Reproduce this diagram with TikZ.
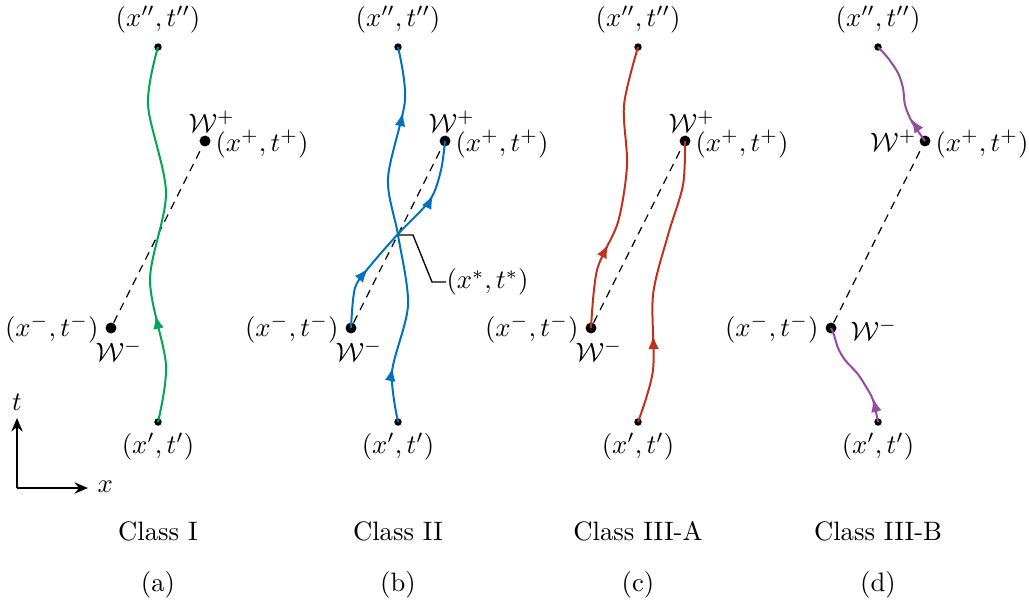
\documentclass[tikz,border=0pt]{standalone}
\usetikzlibrary{arrows.meta,decorations.markings}
\definecolor{cgreen}{RGB}{0,166,81}
\definecolor{cblue}{RGB}{0,114,189}
\definecolor{cred}{RGB}{192,50,30}
\definecolor{cpurple}{RGB}{148,75,160}
\tikzset{
  sdot/.style={circle,fill=black,inner sep=0pt,minimum size=2.8pt},
  bdot/.style={circle,fill=black,inner sep=0pt,minimum size=4.1pt},
  lbl/.style={inner sep=0pt},
  traj/.style={line width=0.75pt},
  dsh/.style={line width=0.45pt,dash pattern=on 3pt off 2.3pt},
  tipa/.style={decoration={markings,mark=at position #1 with {\arrow{Latex[length=5.2pt,width=4pt]}}},postaction={decorate}},
  tipb/.style 2 args={decoration={markings,mark=at position #1 with {\arrow{Latex[length=5.2pt,width=4pt]}},mark=at position #2 with {\arrow{Latex[length=5.2pt,width=4pt]}}},postaction={decorate}},
  headonly/.style={line width=0.75pt,-{Latex[length=5.2pt,width=4pt]}},
  axis/.style={line width=0.9pt,-{Stealth[length=5pt,width=4.2pt,inset=1.6pt]}}
}
\begin{document}
\begin{tikzpicture}[x=0.375pt,y=-0.375pt]
\useasboundingbox (0,0) rectangle (1029,602);
% ---------- common points for the four panels
\foreach \o/\p in {0/a,240/b,480/c,720/d}{
  \node[sdot] (top\p) at (158+\o,47) {};
  \node[sdot] (bot\p) at (158+\o,422) {};
  \node[bdot] (wp\p) at (205+\o,141) {};
  \node[bdot] (wm\p) at (111+\o,328) {};
  \node[lbl,anchor=base] (ltop\p) at (158+\o,26.3) {$(x'',t'')$};
  \node[lbl,anchor=base] (lbot\p) at (158+\o,453.5) {$(x',t')$};
  \node[lbl,anchor=base west] (lxp\p) at (215+\o,151.5) {$(x^+,t^+)$};
  \node[lbl,anchor=base east] (lxm\p) at (99+\o,336) {$(x^-,t^-)$};
  \draw[dsh] (wm\p) -- (wp\p);
}
\foreach \o/\p in {0/a,240/b,480/c}{
  \node[lbl,anchor=base west] (lwp\p) at (188+\o,132) {$\mathcal{W}^+$};
  \node[lbl,anchor=base west] (lwm\p) at (95+\o,361) {$\mathcal{W}^-$};
}
\node[lbl,anchor=base east] (lwpd) at (917,151.5) {$\mathcal{W}^+$};
\node[lbl,anchor=base west] (lwmd) at (850,340) {$\mathcal{W}^-$};
% ---------- (a) Class I
\draw[traj,cgreen,tipa=0.285] plot[smooth] coordinates {(bota) (166,365) (150,280) (166,193) (148,105) (topa)};
% ---------- (b) Class II
\draw[traj,cblue,tipb={0.145}{0.827}] plot[smooth] coordinates {(botb) (392,372) (408,305) (398,235) (388,178) (405,100) (topb)};
\draw[traj,cblue,tipb={0.293}{0.745}] plot[smooth] coordinates {(wmb) (355,288) (370,266) (398,234) (430,200) (441,170) (wpb)};
\coordinate (xs) at (399,235);
\node[lbl,anchor=west] (lxs) at (446,282) {$(x^*,t^*)$};
\draw[line width=0.5pt] (xs) -- (413,235) -- (432,282) -- (lxs.west);
% ---------- (c) Class III-A
\draw[traj,cred,tipa=0.30] plot[smooth] coordinates {(wmc) (597,270) (618,222) (627,165) (624,105) (topc)};
\draw[traj,cred,tipa=0.31] plot[smooth] coordinates {(botc) (653,370) (653,295) (668,235) (683,185) (wpc)};
% ---------- (d) Class III-B
\draw[traj,cpurple] plot[smooth] coordinates {(botd) (873,400) (865,385) (857,373) (845,360) (838,348) (834,335) (wmd)};
\coordinate (pa1) at (876.5,412);
\coordinate (pa2) at (873,398);
\draw[headonly,cpurple] (pa1) -- (pa2);
\draw[traj,cpurple] plot[smooth] coordinates {(wpd) (912,122) (905,105) (903,88) (898,73) (888,58) (topd)};
\coordinate (pb1) at (918.5,130);
\coordinate (pb2) at (911,119);
\draw[headonly,cpurple] (pb1) -- (pb2);
% ---------- axes
\coordinate (org) at (17,488);
\coordinate (tend) at (17,418);
\coordinate (xend) at (88,488);
\draw[axis] (org) -- (tend);
\draw[axis] (org) -- (xend);
\node[lbl,anchor=base] (lt) at (17,410) {$t$};
\node[lbl,anchor=base west] (lx) at (97,492) {$x$};
% ---------- captions
\node[lbl,anchor=base] (ca) at (158,540) {Class I};
\node[lbl,anchor=base] (cb) at (398,540) {Class II};
\node[lbl,anchor=base] (cc) at (638,540) {Class III-A};
\node[lbl,anchor=base] (cd) at (878,540) {Class III-B};
\node[lbl,anchor=base] (sa) at (158,591) {(a)};
\node[lbl,anchor=base] (sb) at (398,591) {(b)};
\node[lbl,anchor=base] (sc) at (638,591) {(c)};
\node[lbl,anchor=base] (sd) at (878,591) {(d)};
\end{tikzpicture}
\end{document}
